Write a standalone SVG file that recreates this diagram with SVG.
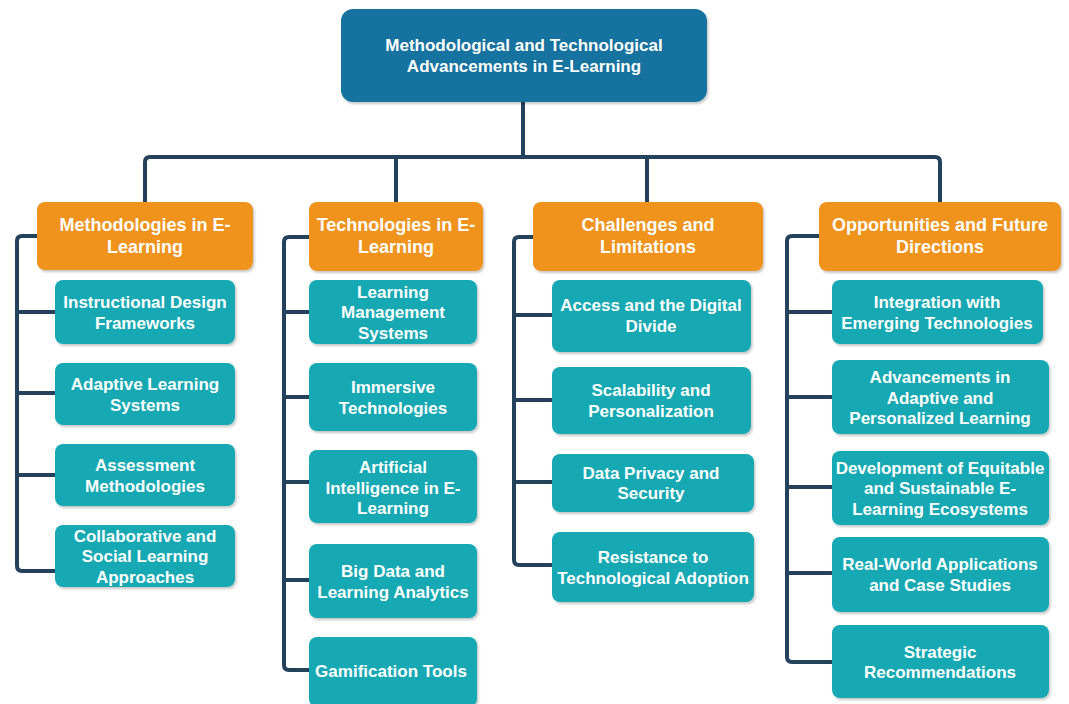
<svg xmlns="http://www.w3.org/2000/svg" width="1069" height="704" viewBox="0 0 1069 704">
<defs>
<filter id="sh" x="-10%" y="-10%" width="120%" height="130%">
<feDropShadow dx="1.5" dy="2" stdDeviation="1" flood-color="#000" flood-opacity="0.22"/>
</filter>
<style>
.root{fill:#13729e;filter:url(#sh)}
.cat{fill:#f0931f;filter:url(#sh)}
.leaf{fill:#14a9b4;filter:url(#sh)}
text{font-family:"Liberation Sans",Arial,sans-serif;font-weight:bold;fill:#fff;text-anchor:middle}
.t0{font-size:17px}
.t1{font-size:18px}
.t2{font-size:17px}
.ln{fill:none;stroke:#24425c;stroke-width:4;stroke-linecap:butt;stroke-linejoin:round}
</style>
</defs>
<rect width="1069" height="704" fill="#fff"/>
<g id="connectors">
<path class="ln" d="M523,102 V157"/>
<path class="ln" d="M145,202 V162 Q145,157 150,157 H935 Q940,157 940,162 V202"/>
<path class="ln" d="M396,157 V202"/>
<path class="ln" d="M647,157 V202"/>
<path class="ln" d="M37,236 H22 Q17,236 17,241 V566 Q17,571 22,571 H55"/>
<path class="ln" d="M17,312 H55 M17,393 H55 M17,475 H55"/>
<path class="ln" d="M309,237 H289 Q284,237 284,242 V665 Q284,670 289,670 H309"/>
<path class="ln" d="M284,312 H309 M284,397 H309 M284,482 H309 M284,580 H309"/>
<path class="ln" d="M533,237 H519 Q514,237 514,242 V560 Q514,565 519,565 H552"/>
<path class="ln" d="M514,315 H552 M514,400 H552 M514,482 H552"/>
<path class="ln" d="M819,236 H792 Q787,236 787,241 V657 Q787,662 792,662 H832"/>
<path class="ln" d="M787,312 H832 M787,397 H832 M787,487 H832 M787,573 H832"/>
</g>
<g id="root">
<rect class="root" x="341" y="9" width="366" height="93" rx="12"/>
<text class="t0" x="524" y="51">Methodological and Technological</text>
<text class="t0" x="524" y="72">Advancements in E-Learning</text>
</g>
<g id="cat1">
<rect class="cat" x="37" y="202" width="216" height="68" rx="8"/>
<text class="t1" x="145" y="231">Methodologies in E-</text>
<text class="t1" x="145" y="253">Learning</text>
</g>
<g id="cat2">
<rect class="cat" x="309" y="202" width="174" height="69" rx="8"/>
<text class="t1" x="396" y="231">Technologies in E-</text>
<text class="t1" x="396" y="253">Learning</text>
</g>
<g id="cat3">
<rect class="cat" x="533" y="202" width="230" height="69" rx="8"/>
<text class="t1" x="648" y="231">Challenges and</text>
<text class="t1" x="648" y="253">Limitations</text>
</g>
<g id="cat4">
<rect class="cat" x="819" y="202" width="242" height="69" rx="8"/>
<text class="t1" x="940" y="231">Opportunities and Future</text>
<text class="t1" x="940" y="253">Directions</text>
</g>
<g id="c1a">
<rect class="leaf" x="55" y="280" width="180" height="64" rx="8"/>
<text class="t2" x="145" y="308">Instructional Design</text>
<text class="t2" x="145" y="328.5">Frameworks</text>
</g>
<g id="c1b">
<rect class="leaf" x="55" y="363" width="180" height="62" rx="8"/>
<text class="t2" x="145" y="390">Adaptive Learning</text>
<text class="t2" x="145" y="410.5">Systems</text>
</g>
<g id="c1c">
<rect class="leaf" x="55" y="444" width="180" height="62" rx="8"/>
<text class="t2" x="145" y="471">Assessment</text>
<text class="t2" x="145" y="491.5">Methodologies</text>
</g>
<g id="c1d">
<rect class="leaf" x="55" y="525" width="180" height="62" rx="8"/>
<text class="t2" x="145" y="541.5">Collaborative and</text>
<text class="t2" x="145" y="562">Social Learning</text>
<text class="t2" x="145" y="582.5">Approaches</text>
</g>
<g id="c2a">
<rect class="leaf" x="309" y="280" width="168" height="64" rx="8"/>
<text class="t2" x="393" y="297.5">Learning</text>
<text class="t2" x="393" y="318">Management</text>
<text class="t2" x="393" y="338.5">Systems</text>
</g>
<g id="c2b">
<rect class="leaf" x="309" y="363" width="168" height="68" rx="8"/>
<text class="t2" x="393" y="393">Immersive</text>
<text class="t2" x="393" y="413.5">Technologies</text>
</g>
<g id="c2c">
<rect class="leaf" x="309" y="450" width="168" height="73" rx="8"/>
<text class="t2" x="393" y="473">Artificial</text>
<text class="t2" x="393" y="493.5">Intelligence in E-</text>
<text class="t2" x="393" y="514">Learning</text>
</g>
<g id="c2d">
<rect class="leaf" x="309" y="544" width="168" height="74" rx="8"/>
<text class="t2" x="393" y="577">Big Data and</text>
<text class="t2" x="393" y="597.5">Learning Analytics</text>
</g>
<g id="c2e">
<rect class="leaf" x="309" y="637" width="168" height="70" rx="8"/>
<text class="t2" x="391" y="677">Gamification Tools</text>
</g>
<g id="c3a">
<rect class="leaf" x="552" y="280" width="199" height="72" rx="8"/>
<text class="t2" x="651" y="311">Access and the Digital</text>
<text class="t2" x="651" y="331.5">Divide</text>
</g>
<g id="c3b">
<rect class="leaf" x="552" y="367" width="199" height="67" rx="8"/>
<text class="t2" x="651" y="396">Scalability and</text>
<text class="t2" x="651" y="416.5">Personalization</text>
</g>
<g id="c3c">
<rect class="leaf" x="552" y="454" width="202" height="58" rx="8"/>
<text class="t2" x="651" y="478.5">Data Privacy and</text>
<text class="t2" x="651" y="499">Security</text>
</g>
<g id="c3d">
<rect class="leaf" x="552" y="532" width="202" height="70" rx="8"/>
<text class="t2" x="653" y="563">Resistance to</text>
<text class="t2" x="653" y="583.5">Technological Adoption</text>
</g>
<g id="c4a">
<rect class="leaf" x="832" y="280" width="211" height="64" rx="8"/>
<text class="t2" x="937" y="308">Integration with</text>
<text class="t2" x="937" y="328.5">Emerging Technologies</text>
</g>
<g id="c4b">
<rect class="leaf" x="832" y="360" width="217" height="74" rx="8"/>
<text class="t2" x="940" y="383">Advancements in</text>
<text class="t2" x="940" y="403.5">Adaptive and</text>
<text class="t2" x="940" y="424">Personalized Learning</text>
</g>
<g id="c4c">
<rect class="leaf" x="832" y="451" width="217" height="74" rx="8"/>
<text class="t2" x="940" y="473.5">Development of Equitable</text>
<text class="t2" x="940" y="494">and Sustainable E-</text>
<text class="t2" x="940" y="514.5">Learning Ecosystems</text>
</g>
<g id="c4d">
<rect class="leaf" x="832" y="537" width="217" height="75" rx="8"/>
<text class="t2" x="940" y="570">Real-World Applications</text>
<text class="t2" x="940" y="590.5">and Case Studies</text>
</g>
<g id="c4e">
<rect class="leaf" x="832" y="625" width="217" height="73" rx="8"/>
<text class="t2" x="940" y="657.5">Strategic</text>
<text class="t2" x="940" y="678">Recommendations</text>
</g>
</svg>
